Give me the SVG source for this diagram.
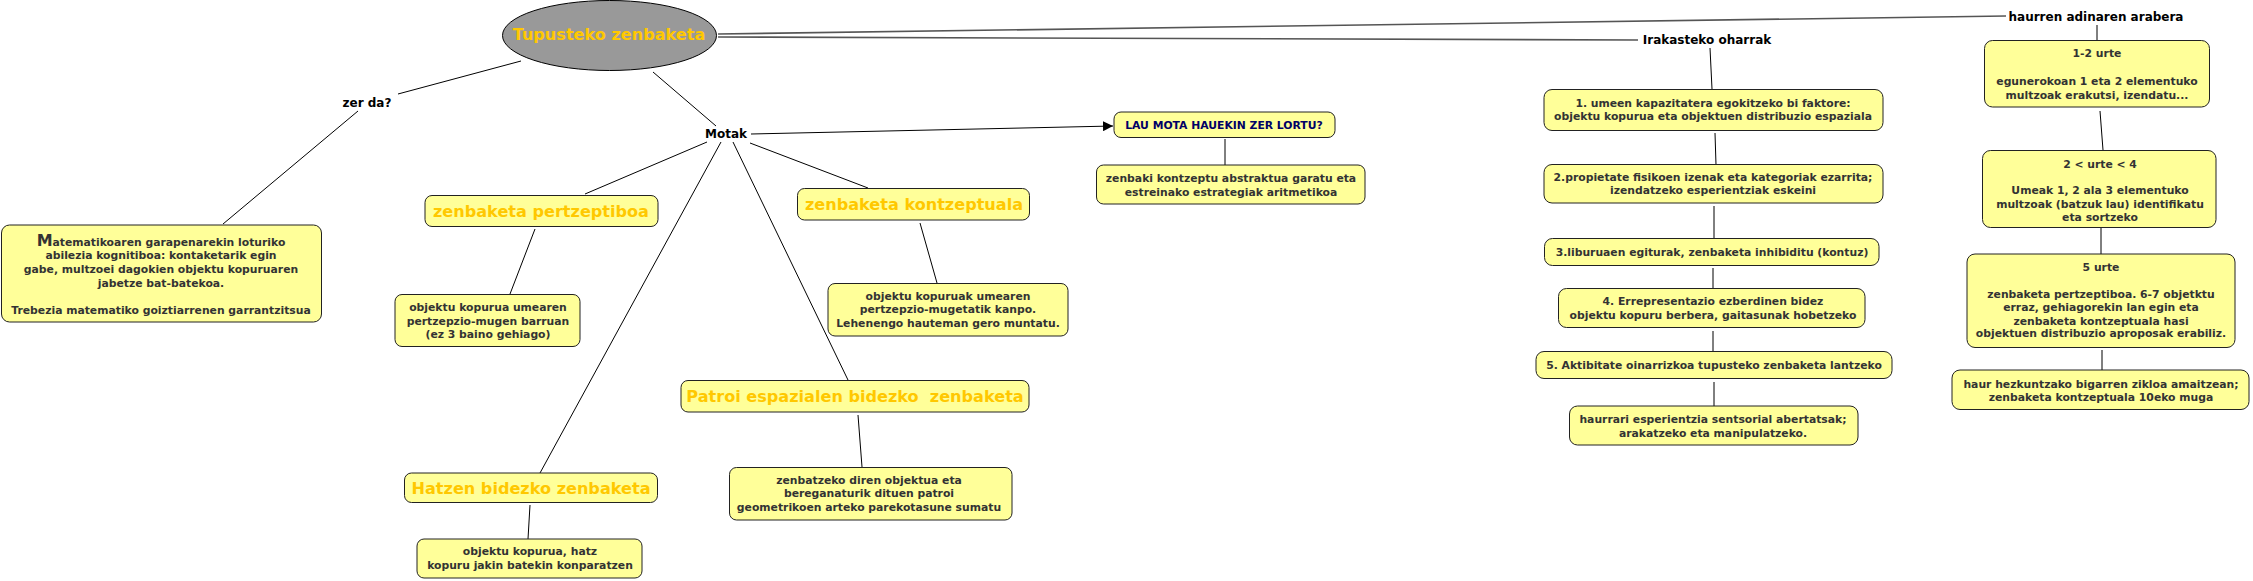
<svg xmlns="http://www.w3.org/2000/svg" width="2253" height="581" viewBox="0 0 2253 581">
<defs>
<style>
.bg{fill:#ffffff}
.box{fill:#ffff99;stroke:#222;stroke-width:1}
.t{font-family:"DejaVu Sans",Verdana,sans-serif;font-weight:bold;font-size:10.8px;fill:#333;text-anchor:middle}
.h{font-family:"DejaVu Sans",Verdana,sans-serif;font-weight:bold;font-size:16.1px;fill:#ffc800;text-anchor:middle}
.lbl{font-family:"DejaVu Sans",Verdana,sans-serif;font-weight:bold;font-size:12px;fill:#000;text-anchor:middle}
.lau{font-family:"DejaVu Sans",Verdana,sans-serif;font-weight:bold;font-size:10.8px;fill:#000066;text-anchor:middle}
.c{stroke:#000;stroke-width:1;fill:none}
.g{stroke:#555;stroke-width:1.6;fill:none}
</style>
<marker id="arr" viewBox="0 0 10 10" refX="10" refY="5" markerWidth="10" markerHeight="10" markerUnits="userSpaceOnUse" orient="auto">
<path d="M0,0 L10,5 L0,10 z" fill="#000"/>
</marker>
</defs>
<rect class="bg" x="0" y="0" width="2253" height="581"/>
<g id="connectors">
<line class="g" x1="718" y1="34" x2="2006" y2="16"/>
<line class="g" x1="718" y1="37" x2="1638" y2="40"/>
<line class="c" x1="521" y1="61" x2="398" y2="94"/>
<line class="c" x1="358" y1="111" x2="223" y2="224"/>
<line class="c" x1="653" y1="72" x2="716" y2="126"/>
<line class="c" x1="707" y1="142" x2="585" y2="194"/>
<line class="c" x1="721" y1="142" x2="540" y2="473"/>
<line class="c" x1="733" y1="142" x2="848" y2="380"/>
<line class="c" x1="750" y1="143" x2="868" y2="188"/>
<line class="c" x1="751" y1="134" x2="1113" y2="126" marker-end="url(#arr)"/>
<line class="c" x1="535" y1="229" x2="510" y2="294"/>
<line class="c" x1="920" y1="223" x2="937" y2="283"/>
<line class="c" x1="858" y1="415" x2="862" y2="467"/>
<line class="c" x1="530" y1="505" x2="528" y2="539"/>
<line class="c" x1="1225" y1="139" x2="1225" y2="165"/>
<line class="c" x1="1710" y1="48" x2="1712" y2="89"/>
<line class="c" x1="1715" y1="133" x2="1716" y2="165"/>
<line class="c" x1="1714" y1="206" x2="1714" y2="238"/>
<line class="c" x1="1713" y1="268" x2="1713" y2="288"/>
<line class="c" x1="1713" y1="331" x2="1713" y2="351"/>
<line class="c" x1="1714" y1="382" x2="1714" y2="406"/>
<line class="c" x1="2097" y1="25" x2="2097" y2="40"/>
<line class="c" x1="2100" y1="111" x2="2103" y2="150"/>
<line class="c" x1="2101" y1="227" x2="2101" y2="254"/>
<line class="c" x1="2102" y1="350" x2="2102" y2="370"/>
</g>
<g id="n-root">
<ellipse cx="609.5" cy="35.5" rx="107" ry="35" fill="#999999" stroke="#000" stroke-width="1"/>
<text class="h" x="609" y="39.5">Tupusteko zenbaketa</text>
</g>
<g id="n-zerda"><text class="lbl" x="367" y="106.5">zer da?</text></g>
<g id="n-motak"><text class="lbl" x="726" y="137.5">Motak</text></g>
<g id="n-irakasteko"><text class="lbl" x="1707" y="44">Irakasteko oharrak</text></g>
<g id="n-haurren"><text class="lbl" x="2096" y="21">haurren adinaren arabera</text></g>
<g id="n-mat">
<rect class="box" x="1.5" y="225" width="320" height="97" rx="8"/>
<text class="t" x="161" y="245.5"><tspan font-size="16">M</tspan>atematikoaren garapenarekin loturiko</text>
<text class="t" x="161" y="259">abilezia kognitiboa: kontaketarik egin</text>
<text class="t" x="161" y="273">gabe, multzoei dagokien objektu kopuruaren</text>
<text class="t" x="161" y="287">jabetze bat-batekoa.</text>
<text class="t" x="161" y="314">Trebezia matematiko goiztiarrenen garrantzitsua</text>
</g>
<g id="n-pertz">
<rect class="box" x="425" y="195.5" width="233" height="31" rx="7"/>
<text class="h" x="541" y="216.5">zenbaketa pertzeptiboa</text>
</g>
<g id="n-pertz-d">
<rect class="box" x="395" y="294.5" width="185" height="52" rx="7"/>
<text class="t" x="488" y="311">objektu kopurua umearen</text>
<text class="t" x="488" y="324.5">pertzepzio-mugen barruan</text>
<text class="t" x="488" y="338">(ez 3 baino gehiago)</text>
</g>
<g id="n-kontz">
<rect class="box" x="797.5" y="188.5" width="232" height="31.5" rx="7"/>
<text class="h" x="914" y="209.5">zenbaketa kontzeptuala</text>
</g>
<g id="n-kontz-d">
<rect class="box" x="828" y="283.5" width="240" height="52.5" rx="7"/>
<text class="t" x="948" y="300">objektu kopuruak umearen</text>
<text class="t" x="948" y="313">pertzepzio-mugetatik kanpo.</text>
<text class="t" x="948" y="326.5">Lehenengo hauteman gero muntatu.</text>
</g>
<g id="n-patroi">
<rect class="box" x="681" y="380.5" width="348" height="31.5" rx="7"/>
<text class="h" x="855" y="401.5" xml:space="preserve">Patroi espazialen bidezko  zenbaketa</text>
</g>
<g id="n-patroi-d">
<rect class="box" x="729.5" y="467.5" width="282.5" height="52.5" rx="7"/>
<text class="t" x="869" y="483.5">zenbatzeko diren objektua eta</text>
<text class="t" x="869" y="497">bereganaturik dituen patroi</text>
<text class="t" x="869" y="510.5">geometrikoen arteko parekotasune sumatu</text>
</g>
<g id="n-hatzen">
<rect class="box" x="404.5" y="473" width="253" height="29.5" rx="7"/>
<text class="h" x="531" y="493.5">Hatzen bidezko zenbaketa</text>
</g>
<g id="n-hatzen-d">
<rect class="box" x="417" y="539" width="225" height="39" rx="7"/>
<text class="t" x="530" y="555">objektu kopurua, hatz</text>
<text class="t" x="530" y="569">kopuru jakin batekin konparatzen</text>
</g>
<g id="n-lau">
<rect class="box" x="1114" y="112" width="221" height="25.5" rx="7"/>
<text class="lau" x="1224" y="128.5">LAU MOTA HAUEKIN ZER LORTU?</text>
</g>
<g id="n-lau-d">
<rect class="box" x="1096.5" y="165" width="268.5" height="39" rx="7"/>
<text class="t" x="1231" y="182">zenbaki kontzeptu abstraktua garatu eta</text>
<text class="t" x="1231" y="195.5">estreinako estrategiak aritmetikoa</text>
</g>
<g id="n-ir1">
<rect class="box" x="1544" y="89.5" width="339" height="41" rx="8"/>
<text class="t" x="1713" y="107">1. umeen kapazitatera egokitzeko bi faktore:</text>
<text class="t" x="1713" y="120">objektu kopurua eta objektuen distribuzio espaziala</text>
</g>
<g id="n-ir2">
<rect class="box" x="1544" y="164.5" width="339" height="38.5" rx="8"/>
<text class="t" x="1713" y="181">2.propietate fisikoen izenak eta kategoriak ezarrita;</text>
<text class="t" x="1713" y="194">izendatzeko esperientziak eskeini</text>
</g>
<g id="n-ir3">
<rect class="box" x="1544.5" y="238.5" width="334.5" height="27" rx="8"/>
<text class="t" x="1712" y="256">3.liburuaen egiturak, zenbaketa inhibiditu (kontuz)</text>
</g>
<g id="n-ir4">
<rect class="box" x="1558.5" y="288.5" width="306.5" height="39" rx="8"/>
<text class="t" x="1713" y="305">4. Errepresentazio ezberdinen bidez</text>
<text class="t" x="1713" y="318.5">objektu kopuru berbera, gaitasunak hobetzeko</text>
</g>
<g id="n-ir5">
<rect class="box" x="1536" y="351.5" width="356" height="27" rx="8"/>
<text class="t" x="1714" y="369">5. Aktibitate oinarrizkoa tupusteko zenbaketa lantzeko</text>
</g>
<g id="n-ir6">
<rect class="box" x="1569.5" y="406" width="288.5" height="39" rx="8"/>
<text class="t" x="1713" y="423">haurrari esperientzia sentsorial abertatsak;</text>
<text class="t" x="1713" y="436.5">arakatzeko eta manipulatzeko.</text>
</g>
<g id="n-age1">
<rect class="box" x="1984.5" y="40.5" width="225" height="66.5" rx="8"/>
<text class="t" x="2097" y="57">1-2 urte</text>
<text class="t" x="2097" y="85">egunerokoan 1 eta 2 elementuko</text>
<text class="t" x="2097" y="99">multzoak erakutsi, izendatu...</text>
</g>
<g id="n-age2">
<rect class="box" x="1982.5" y="150.5" width="233.5" height="77" rx="8"/>
<text class="t" x="2100" y="167.5">2 &lt; urte &lt; 4</text>
<text class="t" x="2100" y="194">Umeak 1, 2 ala 3 elementuko</text>
<text class="t" x="2100" y="207.5">multzoak (batzuk lau) identifikatu</text>
<text class="t" x="2100" y="220.5">eta sortzeko</text>
</g>
<g id="n-age3">
<rect class="box" x="1967" y="254" width="268" height="93.5" rx="8"/>
<text class="t" x="2101" y="271">5 urte</text>
<text class="t" x="2101" y="298">zenbaketa pertzeptiboa. 6-7 objetktu</text>
<text class="t" x="2101" y="311">erraz, gehiagorekin lan egin eta</text>
<text class="t" x="2101" y="324.5">zenbaketa kontzeptuala hasi</text>
<text class="t" x="2101" y="337">objektuen distribuzio aproposak erabiliz.</text>
</g>
<g id="n-age4">
<rect class="box" x="1952" y="370" width="297" height="39.5" rx="8"/>
<text class="t" x="2101" y="387.5">haur hezkuntzako bigarren zikloa amaitzean;</text>
<text class="t" x="2101" y="401">zenbaketa kontzeptuala 10eko muga</text>
</g>
</svg>
